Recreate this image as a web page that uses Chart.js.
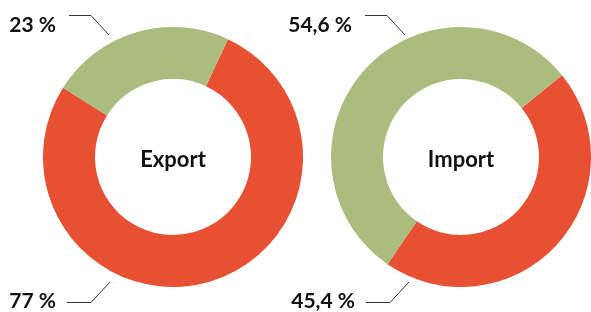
<!DOCTYPE html>
<html>
<head>
<meta charset="utf-8">
<script src="https://cdn.jsdelivr.net/npm/chart.js@4/dist/chart.umd.min.js"></script>
<style>
  html, body { margin: 0; padding: 0; background: #fff; overflow: hidden; }
  .box { position: absolute; top: 0; height: 312px; }
  #exportBox { left: 0; width: 346px; }
  #importBox { left: 200px; width: 522px; }
</style>
</head>
<body>
<div class="box" id="exportBox"><canvas id="exportChart"></canvas></div>
<div class="box" id="importBox"><canvas id="importChart"></canvas></div>
<script>
const segments = ["Anteil rot", "Anteil grün"]
const colors = ["#E85034", "#ABBC7F"]
const exportValues = [77, 23]
const importValues = [45.4, 54.6]

const fmt = v => v.toLocaleString("de-DE") + " %"

// percentage labels with leader lines, top = second segment, bottom = first
const sideLabels = {
  id: "sideLabels",
  afterDraw(chart, args, opts) {
    const ctx = chart.ctx
    const arc = chart.getDatasetMeta(0).data[0]
    const { x, y } = arc.getProps(["x", "y"], true)
    const values = chart.data.datasets[0].data
    ctx.save()
    ctx.strokeStyle = "#333"
    ctx.lineWidth = 1
    ctx.fillStyle = "#111"
    ctx.font = "700 21px Lato"
    ctx.textAlign = "right"
    ctx.textBaseline = "alphabetic"

    const s = opts.shift
    // top
    ctx.beginPath()
    ctx.moveTo(x - 104 + s.top, y - 141.5)
    ctx.lineTo(x - 82 + s.top, y - 141.5)
    ctx.lineTo(x - 64 + s.top, y - 122)
    ctx.stroke()
    ctx.fillText(fmt(values[1]), x - 117 + s.top, y - 125)
    // bottom
    ctx.beginPath()
    ctx.moveTo(x - 106 + s.bottom, y + 145.5)
    ctx.lineTo(x - 82 + s.bottom, y + 145.5)
    ctx.lineTo(x - 63 + s.bottom, y + 125)
    ctx.stroke()
    ctx.fillText(fmt(values[0]), x - 117 + s.bottom, y + 151)

    // centre title
    ctx.textAlign = "center"
    ctx.font = "700 22px Lato"
    ctx.fillText(opts.title, x, y + 10)
    ctx.restore()
  }
}

function makeChart(id, values, rotation, title, shift) {
  return new Chart(document.getElementById(id), {
    type: "doughnut",
    data: {
      labels: segments,
      datasets: [{
        data: values,
        backgroundColor: colors,
        borderWidth: 0,
        hoverOffset: 0
      }]
    },
    options: {
      responsive: true,
      maintainAspectRatio: false,
      animation: false,
      rotation: rotation,
      cutout: "60%",
      layout: { padding: { top: 27, bottom: 25, left: 0, right: 0 } },
      plugins: {
        legend: { display: false },
        tooltip: { enabled: false },
        sideLabels: { title: title, shift: shift }
      }
    },
    plugins: [sideLabels]
  })
}

makeChart("exportChart", exportValues, 25, "Export", { top: 0, bottom: 0 })
makeChart("importChart", importValues, 51, "Import", { top: 8, bottom: 11 })
</script>
</body>
</html>
